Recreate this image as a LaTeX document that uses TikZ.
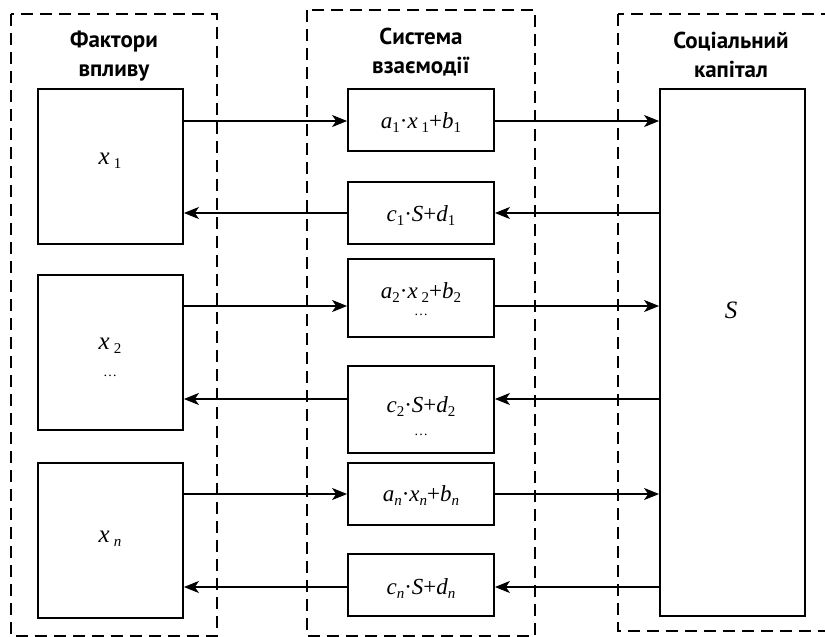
\documentclass[tikz,border=0pt]{standalone}
\usepackage{fontspec}
\setmainfont{Liberation Serif}
\newfontfamily\hdrfont{PT Sans}
\usetikzlibrary{arrows.meta}
\newcommand\vv[1]{\textit{#1}}
\newcommand\sbs[1]{\raisebox{-4pt}{\fontsize{15}{15}\selectfont #1}}
\newcommand\dotsmall{{\fontsize{14}{14}\selectfont …}}
\begin{document}
\begin{tikzpicture}[x=1pt,y=-1pt,
  grp/.style={draw, dash pattern=on 12pt off 7pt, line width=1.5pt},
  blk/.style={draw, line width=1.8pt, inner sep=0pt},
  arr/.style={-{Stealth[length=15pt,width=12pt,inset=4pt]}, line width=1.1pt},
  hdr/.style={font=\hdrfont\bfseries\fontsize{23}{28}\selectfont, anchor=base},
  fm/.style={font=\fontsize{23}{26}\selectfont, inner sep=0pt, anchor=base},
  big/.style={font=\fontsize{25}{28}\selectfont, inner sep=0pt, anchor=base}]
\useasboundingbox (0,0) rectangle (825,637);
% groups
\draw[grp] (11,14) rectangle (217,636);
\draw[grp] (307,10) rectangle (535,636);
\draw[grp] (618,14) rectangle (840,631);
% headers
\node[hdr] (h1a) at (114,47) {Фактори};
\node[hdr] (h1b) at (114,76) {впливу};
\node[hdr] (h2a) at (421,45) {Система};
\node[hdr] (h2b) at (421,73) {взаємодії};
\node[hdr] (h3a) at (731,48) {Соціальний};
\node[hdr] (h3b) at (731,77) {капітал};
% left blocks
\node[blk, minimum width=145pt, minimum height=155pt] (x1) at (110.5,166.5) {};
\node[blk, minimum width=145pt, minimum height=155pt] (x2) at (110.5,352.5) {};
\node[blk, minimum width=145pt, minimum height=155pt] (xn) at (110.5,540.5) {};
% middle blocks
\node[blk, minimum width=146pt, minimum height=62pt] (m1) at (421,120) {};
\node[blk, minimum width=146pt, minimum height=62pt] (m2) at (421,213) {};
\node[blk, minimum width=146pt, minimum height=78pt] (m3) at (421,298) {};
\node[blk, minimum width=146pt, minimum height=87pt] (m4) at (421,409.5) {};
\node[blk, minimum width=146pt, minimum height=62pt] (m5) at (421,494) {};
\node[blk, minimum width=146pt, minimum height=62pt] (m6) at (421,585) {};
% S block
\node[blk, minimum width=145pt, minimum height=527pt] (S) at (732.5,352.5) {};
% texts
\node[big] (tx1) at (110,164) {\vv{x}\,\sbs{1}};
\node[big] (tx2) at (110,349) {\vv{x}\,\sbs{2}};
\node[fm] (tx2d) at (110,376) {\dotsmall};
\node[big] (txn) at (110,542) {\vv{x}\,\sbs{\vv{n}}};
\node[big] (tS) at (731,318) {\vv{S}};
\node[fm] (t1) at (421,128) {\vv{a}\sbs{1}·\vv{x}\,\sbs{1}+\vv{b}\sbs{1}};
\node[fm] (t2) at (421,221) {\vv{c}\sbs{1}·\vv{S}+\vv{d}\sbs{1}};
\node[fm] (t3) at (421,298) {\vv{a}\sbs{2}·\vv{x}\,\sbs{2}+\vv{b}\sbs{2}};
\node[fm] (t3d) at (421,315) {\dotsmall};
\node[fm] (t4) at (421,412) {\vv{c}\sbs{2}·\vv{S}+\vv{d}\sbs{2}};
\node[fm] (t4d) at (421,435) {\dotsmall};
\node[fm] (t5) at (421,501) {\vv{a}\sbs{\vv{n}}·\vv{x}\sbs{\vv{n}}+\vv{b}\sbs{\vv{n}}};
\node[fm] (t6) at (421,594) {\vv{c}\sbs{\vv{n}}·\vv{S}+\vv{d}\sbs{\vv{n}}};
% arrows
\draw[arr] (x1.east |- 0,121) -- (m1.west |- 0,121);
\draw[arr] (m1.east |- 0,121) -- (S.west |- 0,121);
\draw[arr] (m2.west |- 0,213) -- (x1.east |- 0,213);
\draw[arr] (S.west |- 0,213) -- (m2.east |- 0,213);
\draw[arr] (x2.east |- 0,306) -- (m3.west |- 0,306);
\draw[arr] (m3.east |- 0,306) -- (S.west |- 0,306);
\draw[arr] (m4.west |- 0,399) -- (x2.east |- 0,399);
\draw[arr] (S.west |- 0,399) -- (m4.east |- 0,399);
\draw[arr] (xn.east |- 0,494) -- (m5.west |- 0,494);
\draw[arr] (m5.east |- 0,494) -- (S.west |- 0,494);
\draw[arr] (m6.west |- 0,587) -- (xn.east |- 0,587);
\draw[arr] (S.west |- 0,587) -- (m6.east |- 0,587);
\end{tikzpicture}
\end{document}
